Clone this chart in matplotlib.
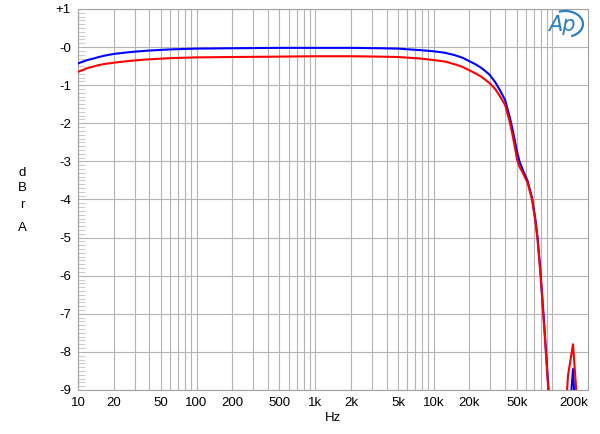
import matplotlib
matplotlib.use('Agg')
import matplotlib.pyplot as plt
from matplotlib.patches import Arc
import numpy as np

# frequency response, dBrA
freq_blue = [10, 11, 12, 13.5, 15, 17, 20, 25, 30, 40, 60, 100, 200, 500, 1000,
             2000, 3500, 5000, 7700, 10000, 12500, 15000, 17500, 20300, 22500,
             25000, 27000, 29700, 33000, 36000, 40000, 43700, 46000, 48200, 50500,
             53100, 56000, 62000, 67400, 71900, 75100, 79300, 86000, 93000,
             100000, 140000, 144500, 149500, 153000, 160000, 200000]
db_blue = [-0.43, -0.38, -0.34, -0.30, -0.26, -0.22, -0.18, -0.145, -0.12, -0.09,
           -0.06, -0.04, -0.03, -0.02, -0.02, -0.02, -0.03, -0.04, -0.08, -0.11,
           -0.15, -0.21, -0.28, -0.38, -0.45, -0.54, -0.62, -0.73, -0.92, -1.12,
           -1.39, -1.83, -2.13, -2.44, -2.75, -3.02, -3.20, -3.52, -3.95, -4.50,
           -5.00, -5.85, -7.40, -9.00, -11.0, -11.0, -9.05, -8.45, -9.05, -11.0,
           -11.0]

freq_red = [10, 11, 12, 13.5, 15, 17, 20, 25, 30, 40, 60, 100, 200, 500, 1000,
            2000, 3500, 5000, 7700, 10000, 12500, 15000, 17500, 20300, 22500,
            25000, 27000, 29700, 33000, 36000, 40000, 43700, 46000, 48200, 50700,
            53000, 56000, 62000, 67400, 71900, 75100, 79300, 86000, 93000,
            100000, 130000, 133000, 135600, 149500, 159500, 165000, 200000]
db_red = [-0.65, -0.60, -0.55, -0.51, -0.47, -0.44, -0.41, -0.375, -0.35, -0.32,
          -0.29, -0.27, -0.26, -0.25, -0.24, -0.24, -0.25, -0.26, -0.30, -0.34,
          -0.38, -0.45, -0.52, -0.62, -0.69, -0.77, -0.85, -0.95, -1.10, -1.28,
          -1.52, -1.96, -2.28, -2.61, -2.98, -3.15, -3.28, -3.57, -4.00, -4.56,
          -5.05, -5.92, -7.50, -9.10, -11.0, -11.0, -9.05, -8.62, -7.80, -9.05,
          -11.0, -11.0]

xticks = [10, 20, 50, 100, 200, 500, 1000, 2000, 5000, 10000, 20000, 50000, 200000]
xticklabels = ['10', '20', '50', '100', '200', '500', '1k', '2k', '5k', '10k',
               '20k', '50k', '200k']
yticks = [1, 0, -1, -2, -3, -4, -5, -6, -7, -8, -9]
yticklabels = ['+1', '-0', '-1', '-2', '-3', '-4', '-5', '-6', '-7', '-8', '-9']

plt.rcParams['font.family'] = ['Liberation Sans', 'DejaVu Sans']

fig = plt.figure(figsize=(6, 4.34), dpi=100)
ax = fig.add_axes([78/600, 44/434, 510/600, 381/434])

ax.set_xscale('log')
ax.set_xlim(10, 200000)
ax.set_ylim(-9, 1)

# grid: every 1-9 x decade vertically, every dB horizontally
grid_x = [m * 10**d for d in range(1, 6) for m in range(1, 10) if m * 10**d < 200000]
for gx in grid_x:
    ax.axvline(gx, color='#b4b4b4', lw=0.8, zorder=1)
for gy in yticks:
    ax.axhline(gy, color='#b4b4b4', lw=0.8, zorder=1)

ax.plot(freq_blue, db_blue, color='#0000ff', lw=1.5, zorder=3)
ax.plot(freq_red, db_red, color='#ff0000', lw=1.5, zorder=4)

ax.set_xticks(xticks)
ax.set_xticklabels(xticklabels)
ax.xaxis.set_minor_locator(matplotlib.ticker.NullLocator())
ax.tick_params(axis='x', length=0, pad=5, labelsize=9.5)
for lab in ax.get_xticklabels()[-1:]:
    lab.set_horizontalalignment('right')

ax.set_yticks(yticks)
ax.set_yticklabels(yticklabels)
ax.set_yticks(np.arange(-9, 1.01, 0.1), minor=True)
ax.tick_params(axis='y', which='major', length=0, pad=5, labelsize=9.5)
ax.tick_params(axis='y', which='minor', direction='in', length=5, color='#cccccc',
               width=0.8)

for s in ax.spines.values():
    s.set_color('#a0a0a0')
    s.set_linewidth(0.8)

# y label stacked letters
for ch, yp in [('d', 173), ('B', 188), ('r', 205), ('A', 228)]:
    fig.text(22/600, 1 - yp/434, ch, ha='center', va='center', fontsize=9.5)
fig.text(333/600, 1 - 418/434, 'Hz', ha='center', va='center', fontsize=9.5)

# Ap logo
fig.text(562/600, 1 - 25/434, 'Ap', ha='center', va='center', fontsize=15,
         style='italic', color='#2a7fc0', family='DejaVu Sans')
fig.add_artist(Arc((565/600, 1 - 24/434), 36/600, 26/434, theta1=-70, theta2=110,
                   transform=fig.transFigure, color='#2a7fc0', lw=1.6))

fig.savefig('out.png', dpi=100)
